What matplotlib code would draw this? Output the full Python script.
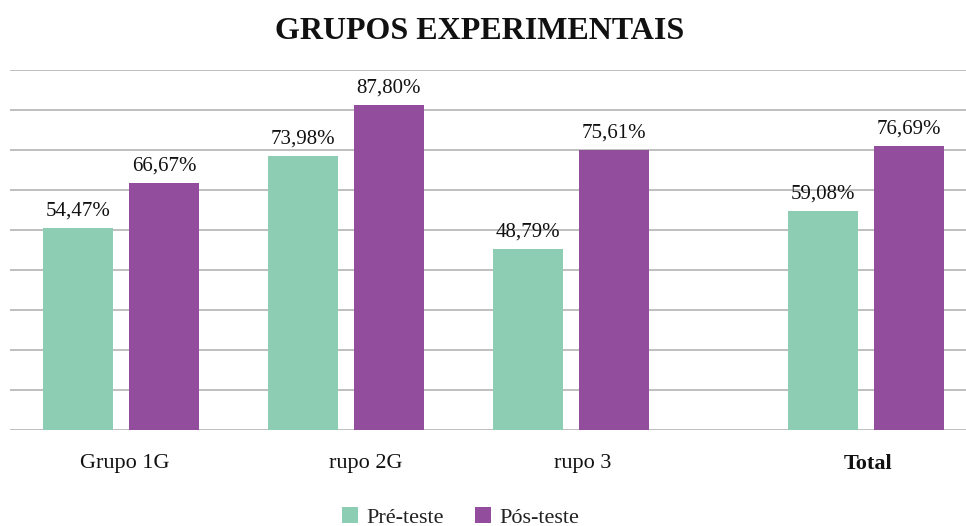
import numpy as np
import matplotlib
matplotlib.use('Agg')
import matplotlib.pyplot as plt
import matplotlib.transforms as mtrans

plt.rcParams['font.family'] = ['Liberation Serif', 'DejaVu Serif']

grupos = ['Grupo 1G', 'rupo 2G', 'rupo 3', 'Total']
pre_teste = [54.47, 73.98, 48.79, 59.08]
pos_teste = [66.67, 87.80, 75.61, 76.69]
rotulos_pre = ['54,47%', '73,98%', '48,79%', '59,08%']
rotulos_pos = ['66,67%', '87,80%', '75,61%', '76,69%']

cor_pre = '#8ccdb4'
cor_pos = '#924d9c'

# posicoes dos grupos (o Total fica mais afastado)
x = np.array([0, 1, 2, 3.31])
w = 0.311
off = 0.191

fig = plt.figure(figsize=(9.66, 5.26), dpi=100)
ax = fig.add_axes([0.0104, 0.1825, 0.9896, 0.6844])

b1 = ax.bar(x - off, pre_teste, w, color=cor_pre, label='Pré-teste', zorder=3)
b2 = ax.bar(x + off, pos_teste, w, color=cor_pos, label='Pós-teste', zorder=3)

for bars, labs in [(b1, rotulos_pre), (b2, rotulos_pos)]:
    for b, t in zip(bars, labs):
        ax.annotate(t, (b.get_x() + b.get_width() / 2, b.get_height()),
                    xytext=(0, 9), textcoords='offset points',
                    ha='center', va='baseline', fontsize=15, color='#111111')

ymax = 97.3
ax.set_ylim(0, ymax)
ax.set_xlim(-0.493, 3.756)
ax.set_yticks(np.linspace(0, ymax, 10))
ax.yaxis.grid(True, color='#bfbfbf', linewidth=1.4, zorder=0)
ax.tick_params(axis='y', left=False, labelleft=False)
ax.tick_params(axis='x', bottom=False, pad=14)
for s in ax.spines.values():
    s.set_visible(False)

ax.set_xticks(x)
ax.set_xticklabels(grupos, fontsize=16, color='#111111')
desloc = [4, 20, 12, 2]
for lab, d in zip(ax.get_xticklabels(), desloc):
    lab.set_transform(lab.get_transform() + mtrans.ScaledTranslation(d / 100, 0, fig.dpi_scale_trans))
ax.get_xticklabels()[3].set_fontweight('bold')

fig.text(0.4969, 0.94, 'GRUPOS EXPERIMENTAIS', ha='center', va='center',
         fontsize=23, fontweight='bold', color='#111111')

fig.legend(loc='center', bbox_to_anchor=(0.477, 0.016), ncol=2, frameon=False,
           fontsize=16, handlelength=0.7, handleheight=0.7, handletextpad=0.4,
           columnspacing=1.4, labelcolor='#222222')

fig.savefig('out.png', dpi=100)
